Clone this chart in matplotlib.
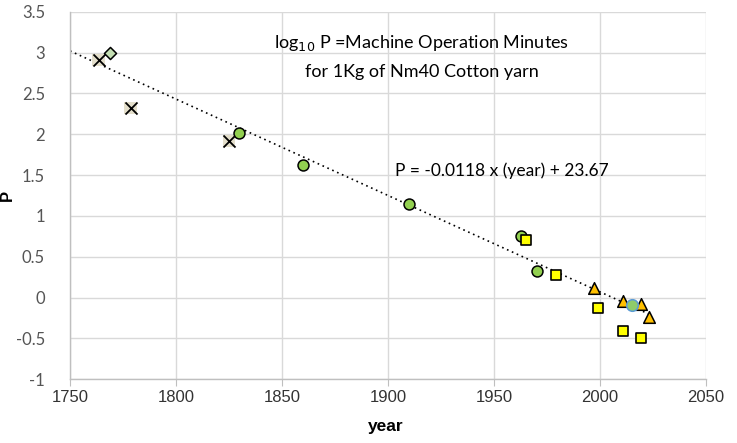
#!/usr/bin/env python3
"""Machine operation minutes for 1Kg of Nm40 cotton yarn, log scale vs year"""
import matplotlib
matplotlib.use('Agg')
import matplotlib.pyplot as plt
import numpy as np

# data (year, P)
cross_years = [1763.5, 1778.6, 1825.0]
cross_p = [2.91, 2.32, 1.92]

diamond_years = [1769.0]
diamond_p = [3.00]

circle_years = [1829.9, 1859.8, 1909.9, 1962.9, 1970.1]
circle_p = [2.02, 1.62, 1.15, 0.76, 0.32]

blue_circle_years = [2015.1]
blue_circle_p = [-0.085]

square_years = [1965.1, 1979.2, 1999.2, 2011.0, 2019.2]
square_p = [0.70, 0.28, -0.13, -0.41, -0.50]

triangle_years = [1997.2, 2011.0, 2019.2, 2023.1]
triangle_p = [0.12, -0.04, -0.08, -0.24]

slope = -0.0118
intercept = 23.67
trend_range = [1750, 2023]

x_ticks = [1750, 1800, 1850, 1900, 1950, 2000, 2050]
y_ticks = [-1, -0.5, 0, 0.5, 1, 1.5, 2, 2.5, 3, 3.5]

tick_font = ['Liberation Sans Narrow', 'Liberation Sans', 'DejaVu Sans']
text_font = ['Lato', 'DejaVu Sans']

fig = plt.figure(figsize=(7.37, 4.43), dpi=100)
ax = fig.add_axes([0.095, 0.1438, 0.863, 0.8298])

# trend line
tx = np.array(trend_range)
ax.plot(tx, slope * tx + intercept, color='black', linestyle=(0, (1, 2.2)),
        linewidth=1.2, zorder=2)

# crosses on tan background
ax.scatter(cross_years, cross_p, marker='s', s=80, color='#e4dfcb',
           edgecolors='none', zorder=3)
ax.scatter(cross_years, cross_p, marker='x', s=75, color='black',
           linewidths=1.3, zorder=4)

ax.scatter(diamond_years, diamond_p, marker='D', s=38, color='#c5e0b4',
           edgecolors='black', linewidths=1.1, zorder=4)
ax.scatter(circle_years, circle_p, marker='o', s=62, color='#92d050',
           edgecolors='black', linewidths=1.1, zorder=4)
ax.scatter(square_years, square_p, marker='s', s=62, color='#ffff00',
           edgecolors='black', linewidths=1.2, zorder=4)
ax.scatter(triangle_years, triangle_p, marker='^', s=70, color='#ffc000',
           edgecolors='black', linewidths=1.1, zorder=5)
ax.scatter(blue_circle_years, blue_circle_p, marker='o', s=70, color='#8fcc6a',
           edgecolors='#5b9bd5', linewidths=1.1, zorder=6)

ax.set_xlim(1750, 2050)
ax.set_ylim(-1, 3.5)
ax.set_xticks(x_ticks)
ax.set_yticks(y_ticks)
ax.set_yticklabels(['-1', '-0.5', '0', '0.5', '1', '1.5', '2', '2.5', '3', '3.5'])
ax.grid(True, color='#d9d9d9', linewidth=1.0, zorder=0)
ax.set_axisbelow(True)

for side in ['top', 'right']:
    ax.spines[side].set_visible(False)
for side in ['left', 'bottom']:
    ax.spines[side].set_color('#bfbfbf')
    ax.spines[side].set_linewidth(1.0)

ax.tick_params(axis='x', direction='out', length=5, color='#bfbfbf', pad=3,
               labelsize=12, labelcolor='#333333')
ax.tick_params(axis='y', length=0, pad=18, labelsize=12, labelcolor='#555555')
for lbl in ax.get_xticklabels():
    lbl.set_family(tick_font)
for lbl in ax.get_yticklabels():
    lbl.set_family(['Lato', 'DejaVu Sans'])
    lbl.set_fontsize(12)

ax.set_xlabel('year', fontsize=12.5, fontweight='bold', family=tick_font)
ax.set_ylabel('P', fontsize=12, fontweight='bold', family=tick_font)
ax.xaxis.set_label_coords(0.497, -0.108)
ax.yaxis.set_label_coords(-0.086, 0.50)

# title text inside plot
ax.text(0.553, 0.914, r'log$_{10}$ P =Machine Operation Minutes',
        transform=ax.transAxes, ha='center', va='center', fontsize=13,
        family=text_font, color='black')
ax.text(0.553, 0.837, 'for 1Kg of Nm40 Cotton yarn',
        transform=ax.transAxes, ha='center', va='center', fontsize=13,
        family=text_font, color='black')

# equation
ax.text(0.679, 0.567, 'P = -0.0118 x (year) + 23.67',
        transform=ax.transAxes, ha='center', va='center', fontsize=12.5,
        family=text_font, color='black')

plt.savefig('out.png', dpi=100)
plt.close()
